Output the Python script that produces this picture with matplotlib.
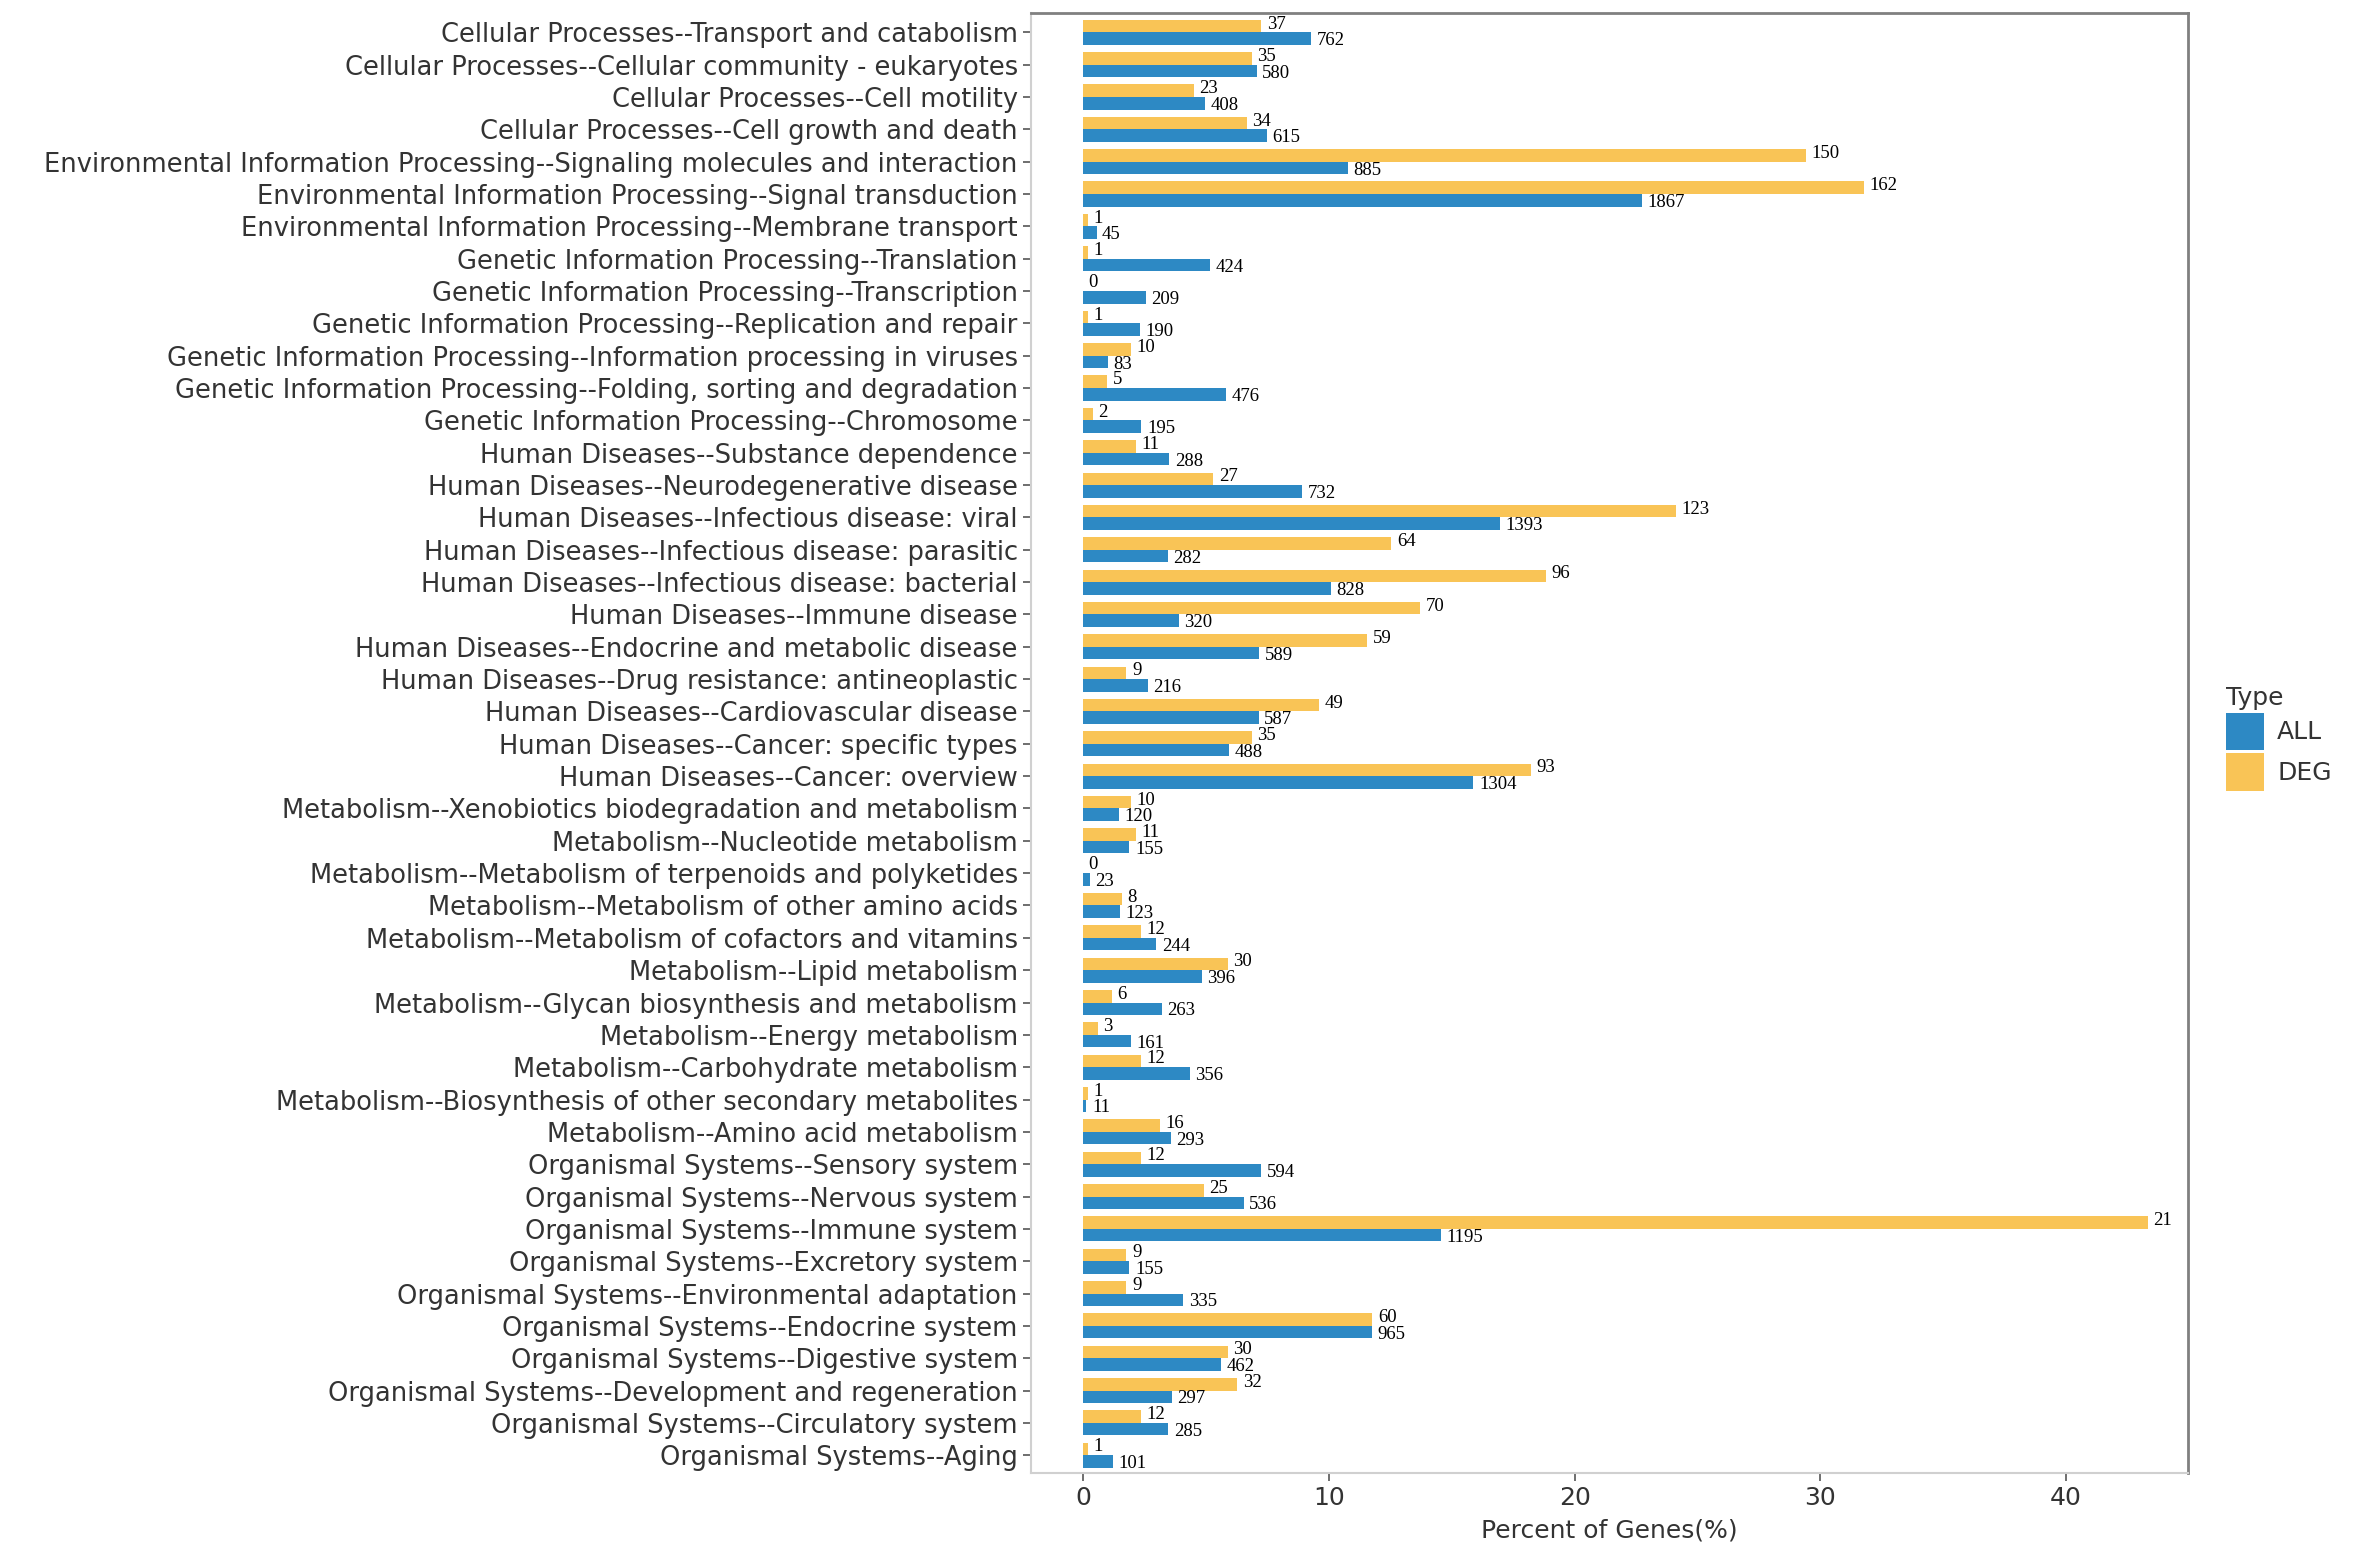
import matplotlib
matplotlib.use('Agg')
import matplotlib.pyplot as plt
from matplotlib.patches import Patch
import numpy as np

# pathway categories, listed top to bottom as in the chart
categories = [
    "Cellular Processes--Transport and catabolism",
    "Cellular Processes--Cellular community - eukaryotes",
    "Cellular Processes--Cell motility",
    "Cellular Processes--Cell growth and death",
    "Environmental Information Processing--Signaling molecules and interaction",
    "Environmental Information Processing--Signal transduction",
    "Environmental Information Processing--Membrane transport",
    "Genetic Information Processing--Translation",
    "Genetic Information Processing--Transcription",
    "Genetic Information Processing--Replication and repair",
    "Genetic Information Processing--Information processing in viruses",
    "Genetic Information Processing--Folding, sorting and degradation",
    "Genetic Information Processing--Chromosome",
    "Human Diseases--Substance dependence",
    "Human Diseases--Neurodegenerative disease",
    "Human Diseases--Infectious disease: viral",
    "Human Diseases--Infectious disease: parasitic",
    "Human Diseases--Infectious disease: bacterial",
    "Human Diseases--Immune disease",
    "Human Diseases--Endocrine and metabolic disease",
    "Human Diseases--Drug resistance: antineoplastic",
    "Human Diseases--Cardiovascular disease",
    "Human Diseases--Cancer: specific types",
    "Human Diseases--Cancer: overview",
    "Metabolism--Xenobiotics biodegradation and metabolism",
    "Metabolism--Nucleotide metabolism",
    "Metabolism--Metabolism of terpenoids and polyketides",
    "Metabolism--Metabolism of other amino acids",
    "Metabolism--Metabolism of cofactors and vitamins",
    "Metabolism--Lipid metabolism",
    "Metabolism--Glycan biosynthesis and metabolism",
    "Metabolism--Energy metabolism",
    "Metabolism--Carbohydrate metabolism",
    "Metabolism--Biosynthesis of other secondary metabolites",
    "Metabolism--Amino acid metabolism",
    "Organismal Systems--Sensory system",
    "Organismal Systems--Nervous system",
    "Organismal Systems--Immune system",
    "Organismal Systems--Excretory system",
    "Organismal Systems--Environmental adaptation",
    "Organismal Systems--Endocrine system",
    "Organismal Systems--Digestive system",
    "Organismal Systems--Development and regeneration",
    "Organismal Systems--Circulatory system",
    "Organismal Systems--Aging",
]

all_counts = [762, 580, 408, 615, 885, 1867, 45, 424, 209, 190, 83, 476, 195,
              288, 732, 1393, 282, 828, 320, 589, 216, 587, 488, 1304,
              120, 155, 23, 123, 244, 396, 263, 161, 356, 11, 293,
              594, 536, 1195, 155, 335, 965, 462, 297, 285, 101]
deg_counts = [37, 35, 23, 34, 150, 162, 1, 1, 0, 1, 10, 5, 2,
              11, 27, 123, 64, 96, 70, 59, 9, 49, 35, 93,
              10, 11, 0, 8, 12, 30, 6, 3, 12, 1, 16,
              12, 25, 221, 9, 9, 60, 30, 32, 12, 1]
# label text as printed on the chart (immune system label shows "21")
deg_labels = [str(c) for c in deg_counts]
deg_labels[categories.index("Organismal Systems--Immune system")] = "21"

all_total = 8210   # annotated genes
deg_total = 510    # annotated DEGs

all_pct = np.array(all_counts) / all_total * 100
deg_pct = np.array(deg_counts) / deg_total * 100

c_all = '#2D89C4'
c_deg = '#F9C456'

W, H = 2362, 1555
fig = plt.figure(figsize=(W / 100, H / 100), dpi=100)
ax = fig.add_axes([1031 / W, 1 - 1473 / H, (2188 - 1031) / W, (1473 - 13) / H])

y = np.arange(len(categories))
bw = 0.39
ax.barh(y - bw / 2, deg_pct, height=bw, color=c_deg)
ax.barh(y + bw / 2, all_pct, height=bw, color=c_all)

for i in range(len(categories)):
    ax.annotate(deg_labels[i], (deg_pct[i], y[i] - bw / 2), xytext=(4, 1.5),
                textcoords='offset points', va='center', ha='left',
                fontsize=13.5, family='Liberation Serif', color='black')
    ax.annotate(str(all_counts[i]), (all_pct[i], y[i] + bw / 2), xytext=(4, -1.5),
                textcoords='offset points', va='center', ha='left',
                fontsize=13.5, family='Liberation Serif', color='black')

ax.set_xlim(-2.12, 44.96)
ax.set_ylim(len(categories) - 0.45, -0.6)
ax.set_yticks(y)
ax.set_yticklabels(categories)
ax.set_xticks([0, 10, 20, 30, 40])
ax.tick_params(axis='both', colors='#555555', labelcolor='#333333',
               length=6, width=1.2)
ax.tick_params(axis='y', labelsize=18.5)
ax.tick_params(axis='x', labelsize=18)
ax.set_xlabel('Percent of Genes(%)', fontsize=18, color='#333333', labelpad=6)

for s in ['top', 'right']:
    ax.spines[s].set_color('#808080')
    ax.spines[s].set_linewidth(2)
for s in ['left', 'bottom']:
    ax.spines[s].set_color('#d0d0d0')
    ax.spines[s].set_linewidth(1.5)

handles = [Patch(facecolor=c_all, label='ALL'), Patch(facecolor=c_deg, label='DEG')]
leg = fig.legend(handles=handles, title='Type', loc='upper left',
                 bbox_to_anchor=(2226 / W, 1 - 686 / H), frameon=False,
                 fontsize=18, title_fontsize=18, handlelength=1.5, handleheight=1.95,
                 labelspacing=0.1, handletextpad=0.55, borderpad=0, borderaxespad=0)
leg._legend_box.align = 'left'
for t in leg.get_texts():
    t.set_color('#333333')
leg.get_title().set_color('#333333')

fig.savefig('out.png', dpi=100)
